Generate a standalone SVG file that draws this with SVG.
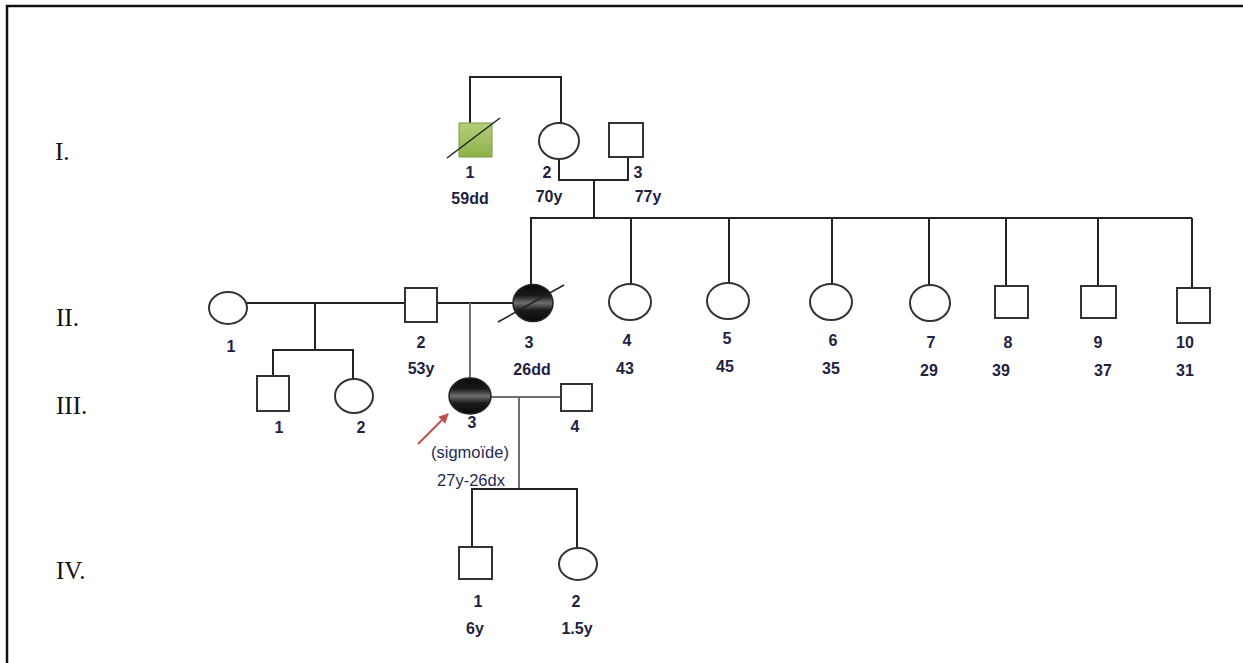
<svg xmlns="http://www.w3.org/2000/svg" width="1243" height="663" viewBox="0 0 1243 663">
<style>
.ln{stroke:#222;stroke-width:2;fill:none}
.lg{stroke:#707070;stroke-width:2;fill:none}
.sym{fill:#fff;stroke:#333;stroke-width:2}
.lb{font-family:"Liberation Sans",Arial,sans-serif;font-size:16px;font-weight:bold;fill:#1f2240;text-anchor:middle}
.lr{font-family:"Liberation Sans",Arial,sans-serif;font-size:16.5px;fill:#1f2a55;text-anchor:middle}
.gen{font-family:"Liberation Serif","Times New Roman",serif;font-size:25px;fill:#111}
</style>
<defs>
<linearGradient id="aff" x1="0" y1="0" x2="0" y2="1">
<stop offset="0" stop-color="#0a0a0a"/>
<stop offset="0.3" stop-color="#1a1a1a"/>
<stop offset="0.5" stop-color="#6e6e6e"/>
<stop offset="0.7" stop-color="#1a1a1a"/>
<stop offset="1" stop-color="#0a0a0a"/>
</linearGradient>
<linearGradient id="grn" x1="0" y1="0" x2="0" y2="1">
<stop offset="0" stop-color="#b3cf7a"/>
<stop offset="1" stop-color="#8fb04a"/>
</linearGradient>
<marker id="arr" viewBox="0 0 10 10" refX="9" refY="5" markerWidth="5" markerHeight="5" orient="auto">
<path d="M0,0 L10,5 L0,10 Z" fill="#c0504d"/>
</marker>
</defs>
<rect width="1243" height="663" fill="#fff"/>
<path d="M7,663 V6 H1243" stroke="#111" stroke-width="2.5" fill="none"/>
<g id="generations">
<text class="gen" x="55" y="160">I.</text>
<text class="gen" x="56" y="326">II.</text>
<text class="gen" x="56" y="414">III.</text>
<text class="gen" x="56" y="579">IV.</text>
</g>
<g id="connectors">
<path class="ln" d="M470,123 V77 H561 V123"/>
<path class="ln" d="M559,159 V180 H628 V157"/>
<path class="ln" d="M594,180 V218"/>
<path class="ln" d="M530,218 H1192"/>
<path class="ln" d="M531,218 V285"/>
<path class="ln" d="M631,218 V283"/>
<path class="ln" d="M729,218 V283"/>
<path class="ln" d="M832,218 V283"/>
<path class="ln" d="M929,218 V285"/>
<path class="ln" d="M1006,218 V286"/>
<path class="ln" d="M1098,218 V286"/>
<path class="ln" d="M1192,218 V288"/>
<path class="ln" d="M247,303 H405"/>
<path class="ln" d="M437,303 H513"/>
<path class="ln" d="M315,303 V350 M273,376 V350 H353 V379"/>
<path class="lg" d="M470,303 V378"/>
<path class="lg" d="M491,397 H561"/>
<path class="lg" d="M519,397 V489"/>
<path class="ln" d="M472,547 V489 H577 V548"/>
<line x1="418" y1="444" x2="448" y2="414" stroke="#c0504d" stroke-width="2" marker-end="url(#arr)"/>
</g>
<g id="I-1">
<rect x="459" y="123" width="33" height="34" fill="url(#grn)" stroke="#7e9c45" stroke-width="1"/>
<line x1="447" y1="158" x2="500" y2="118" stroke="#222" stroke-width="1.5"/>
<text class="lb" x="470" y="178">1</text>
<text class="lb" x="470" y="204">59dd</text>
</g>
<g id="I-2">
<ellipse class="sym" cx="559" cy="141" rx="20" ry="18"/>
<text class="lb" x="547" y="178">2</text>
<text class="lb" x="549" y="202">70y</text>
</g>
<g id="I-3">
<rect class="sym" x="609" y="123" width="34" height="34"/>
<text class="lb" x="638" y="178">3</text>
<text class="lb" x="648" y="202">77y</text>
</g>
<g id="II-1">
<ellipse class="sym" cx="228" cy="308" rx="19" ry="16"/>
<text class="lb" x="231" y="352">1</text>
</g>
<g id="II-2">
<rect class="sym" x="405" y="288" width="32" height="34"/>
<text class="lb" x="421" y="348">2</text>
<text class="lb" x="421" y="374">53y</text>
</g>
<g id="II-3">
<ellipse cx="533" cy="303" rx="20" ry="18.5" fill="url(#aff)" stroke="#222" stroke-width="1.5"/>
<line x1="498" y1="322" x2="564" y2="285" stroke="#222" stroke-width="1.5"/>
<text class="lb" x="529" y="348">3</text>
<text class="lb" x="532" y="375">26dd</text>
</g>
<g id="II-4">
<ellipse class="sym" cx="630" cy="302" rx="21" ry="18"/>
<text class="lb" x="627" y="346">4</text>
<text class="lb" x="625" y="374">43</text>
</g>
<g id="II-5">
<ellipse class="sym" cx="728" cy="301" rx="21" ry="18"/>
<text class="lb" x="727" y="344">5</text>
<text class="lb" x="725" y="372">45</text>
</g>
<g id="II-6">
<ellipse class="sym" cx="831" cy="302" rx="21" ry="18"/>
<text class="lb" x="833" y="346">6</text>
<text class="lb" x="831" y="374">35</text>
</g>
<g id="II-7">
<ellipse class="sym" cx="930" cy="303" rx="20" ry="18"/>
<text class="lb" x="931" y="348">7</text>
<text class="lb" x="929" y="376">29</text>
</g>
<g id="II-8">
<rect class="sym" x="995" y="286" width="33" height="32"/>
<text class="lb" x="1008" y="348">8</text>
<text class="lb" x="1001" y="376">39</text>
</g>
<g id="II-9">
<rect class="sym" x="1081" y="286" width="35" height="32"/>
<text class="lb" x="1098" y="348">9</text>
<text class="lb" x="1103" y="376">37</text>
</g>
<g id="II-10">
<rect class="sym" x="1177" y="288" width="33" height="35"/>
<text class="lb" x="1185" y="348">10</text>
<text class="lb" x="1185" y="376">31</text>
</g>
<g id="III-1">
<rect class="sym" x="257" y="376" width="32" height="35"/>
<text class="lb" x="279" y="433">1</text>
</g>
<g id="III-2">
<ellipse class="sym" cx="354" cy="396" rx="19" ry="17"/>
<text class="lb" x="361" y="433">2</text>
</g>
<g id="III-3">
<text class="lb" x="472" y="428">3</text>
<ellipse cx="470" cy="396" rx="21" ry="18" fill="url(#aff)" stroke="#222" stroke-width="1.5"/>
<text class="lr" x="470" y="458">(sigmoïde)</text>
<text class="lr" x="471" y="486">27y-26dx</text>
</g>
<g id="III-4">
<rect class="sym" x="561" y="384" width="31" height="27"/>
<text class="lb" x="575" y="432">4</text>
</g>
<g id="IV-1">
<rect class="sym" x="459" y="547" width="33" height="32"/>
<text class="lb" x="478" y="607">1</text>
<text class="lb" x="475" y="634">6y</text>
</g>
<g id="IV-2">
<ellipse class="sym" cx="578" cy="564" rx="19" ry="16"/>
<text class="lb" x="576" y="607">2</text>
<text class="lb" x="577" y="634">1.5y</text>
</g>
</svg>
